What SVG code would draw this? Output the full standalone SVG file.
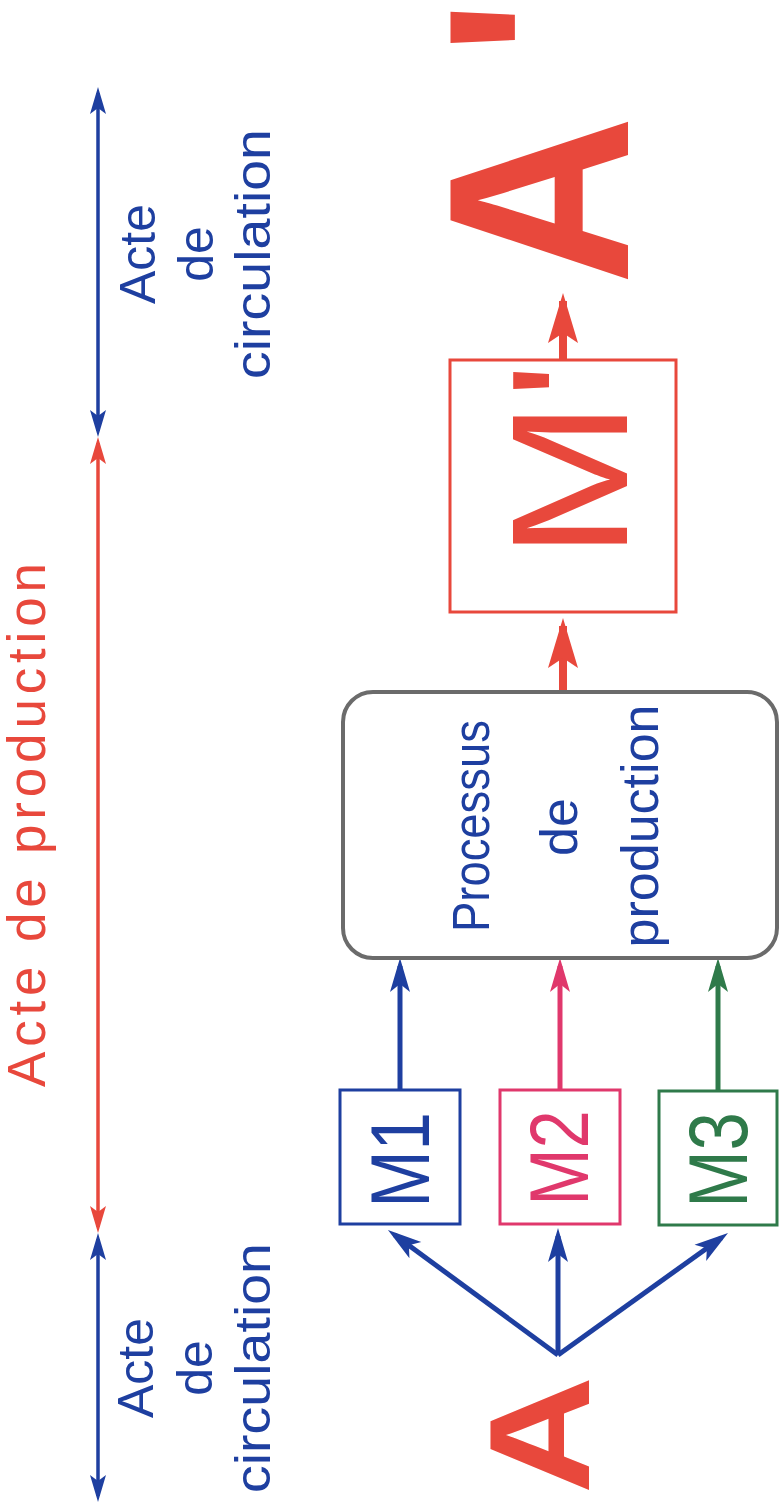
<svg xmlns="http://www.w3.org/2000/svg" width="779" height="1511" viewBox="0 0 779 1511">
<style>
  .sans { font-family: "Liberation Sans", Arial, Helvetica, sans-serif; }
  .blue { fill: #1e3fa0; }
  .red { fill: #e8483c; }
  .thin { fill: none; stroke-width: 3.5; }
  .thick { fill: none; stroke-width: 5; }
  .big { fill: none; stroke-width: 8; }
  .box { fill: #ffffff; stroke-width: 3; }
</style>
<defs>
  <marker id="hBlue" markerUnits="userSpaceOnUse" orient="auto-start-reverse" refX="0" refY="0" markerWidth="40" markerHeight="40" viewBox="-30 -20 40 40" overflow="visible">
    <path d="M6,0 L-21,-8 L-15,0 L-21,8 Z" fill="#1e3fa0"/>
  </marker>
  <marker id="hRed" markerUnits="userSpaceOnUse" orient="auto-start-reverse" refX="0" refY="0" markerWidth="40" markerHeight="40" viewBox="-30 -20 40 40" overflow="visible">
    <path d="M6,0 L-21,-8 L-15,0 L-21,8 Z" fill="#e8483c"/>
  </marker>
  <marker id="tBlue" markerUnits="userSpaceOnUse" orient="auto" refX="0" refY="0" markerWidth="50" markerHeight="50" viewBox="-40 -25 50 50" overflow="visible">
    <path d="M8,0 L-26,-10 L-18,0 L-26,10 Z" fill="#1e3fa0"/>
  </marker>
  <marker id="tPink" markerUnits="userSpaceOnUse" orient="auto" refX="0" refY="0" markerWidth="50" markerHeight="50" viewBox="-40 -25 50 50" overflow="visible">
    <path d="M8,0 L-26,-10 L-18,0 L-26,10 Z" fill="#e0386c"/>
  </marker>
  <marker id="tGreen" markerUnits="userSpaceOnUse" orient="auto" refX="0" refY="0" markerWidth="50" markerHeight="50" viewBox="-40 -25 50 50" overflow="visible">
    <path d="M8,0 L-26,-10 L-18,0 L-26,10 Z" fill="#2f7a4a"/>
  </marker>
  <marker id="tRed" markerUnits="userSpaceOnUse" orient="auto" refX="0" refY="0" markerWidth="70" markerHeight="70" viewBox="-55 -35 70 70" overflow="visible">
    <path d="M8,0 L-42,-15 L-32,0 L-42,15 Z" fill="#e8483c"/>
  </marker>
</defs>

<rect x="0" y="0" width="779" height="1511" fill="#ffffff"/>

<g id="connectors">
  <!-- timeline -->
  <line x1="98" y1="93" x2="98" y2="431" class="thin" stroke="#1e3fa0" marker-start="url(#hBlue)" marker-end="url(#hBlue)"/>
  <line x1="98" y1="443" x2="98" y2="1227" class="thin" stroke="#e8483c" marker-start="url(#hRed)" marker-end="url(#hRed)"/>
  <line x1="98" y1="1239" x2="98" y2="1496" class="thin" stroke="#1e3fa0" marker-start="url(#hBlue)" marker-end="url(#hBlue)"/>
  <!-- A to M1, M2, M3 -->
  <line x1="558" y1="1355" x2="394.4" y2="1234.7" class="thick" stroke="#1e3fa0" marker-end="url(#tBlue)"/>
  <line x1="558" y1="1355" x2="558" y2="1236" class="thick" stroke="#1e3fa0" marker-end="url(#tBlue)"/>
  <line x1="558" y1="1355" x2="721.5" y2="1237.7" class="thick" stroke="#1e3fa0" marker-end="url(#tBlue)"/>
  <!-- M boxes to process -->
  <line x1="400" y1="1090" x2="400" y2="966" class="thick" stroke="#1e3fa0" marker-end="url(#tBlue)"/>
  <line x1="560" y1="1090" x2="560" y2="966" class="thick" stroke="#e0386c" marker-end="url(#tPink)"/>
  <line x1="718" y1="1090" x2="718" y2="966" class="thick" stroke="#2f7a4a" marker-end="url(#tGreen)"/>
  <!-- process to M' and M' to A' -->
  <line x1="563" y1="692" x2="563" y2="626" class="big" stroke="#e8483c" marker-end="url(#tRed)"/>
  <line x1="563" y1="360" x2="563" y2="301" class="big" stroke="#e8483c" marker-end="url(#tRed)"/>
</g>

<g id="acte-production">
  <text class="sans red" transform="translate(45,825) rotate(-90)" text-anchor="middle" font-size="53" textLength="524" lengthAdjust="spacing">Acte de production</text>
</g>

<g id="acte-circulation-top" class="sans blue" font-size="50" text-anchor="middle">
  <text transform="translate(155,254) rotate(-90)">Acte</text>
  <text transform="translate(213,254) rotate(-90)">de</text>
  <text transform="translate(270,254) rotate(-90)" textLength="250" lengthAdjust="spacingAndGlyphs">circulation</text>
</g>

<g id="acte-circulation-bottom" class="sans blue" font-size="50" text-anchor="middle">
  <text transform="translate(153,1368) rotate(-90)">Acte</text>
  <text transform="translate(212,1368) rotate(-90)">de</text>
  <text transform="translate(270,1368) rotate(-90)" textLength="250" lengthAdjust="spacingAndGlyphs">circulation</text>
</g>

<g id="A">
  <text class="sans red" font-weight="bold" font-size="142" text-anchor="middle" transform="translate(589,1435) rotate(-90) scale(1.15,1)">A</text>
</g>

<g id="M1">
  <rect x="340" y="1090" width="120" height="134" class="box" stroke="#1e3fa0"/>
  <text class="sans" fill="#1e3fa0" font-size="84" text-anchor="middle" transform="translate(429,1160) rotate(-90) scale(0.82,1)">M1</text>
</g>

<g id="M2">
  <rect x="500" y="1090" width="120" height="134" class="box" stroke="#e0386c"/>
  <text class="sans" fill="#e0386c" font-size="84" text-anchor="middle" transform="translate(588,1158) rotate(-90) scale(0.82,1)">M2</text>
</g>

<g id="M3">
  <rect x="659" y="1091" width="118" height="134" class="box" stroke="#2f7a4a"/>
  <text class="sans" fill="#2f7a4a" font-size="84" text-anchor="middle" transform="translate(747,1160) rotate(-90) scale(0.82,1)">M3</text>
</g>

<g id="processus">
  <rect x="343" y="692" width="434" height="266" rx="30" ry="30" fill="#ffffff" stroke="#6b6b6b" stroke-width="4"/>
  <g class="sans blue" font-size="52" text-anchor="middle">
    <text transform="translate(489,826) rotate(-90)" textLength="212" lengthAdjust="spacingAndGlyphs">Processus</text>
    <text transform="translate(577,827) rotate(-90)">de</text>
    <text transform="translate(658,826) rotate(-90)" textLength="243" lengthAdjust="spacingAndGlyphs">production</text>
  </g>
</g>

<g id="M-prime">
  <rect x="450" y="360" width="226" height="252" class="box" stroke="#e8483c"/>
  <text class="sans red" font-size="165" transform="translate(627,559) rotate(-90) scale(1.15,1)">M<tspan dx="2">'</tspan></text>
</g>

<g id="A-prime">
  <text class="sans red" font-weight="bold" font-size="258" transform="translate(628,285) rotate(-90) scale(0.91,1)">A<tspan dx="66">'</tspan></text>
</g>
</svg>
